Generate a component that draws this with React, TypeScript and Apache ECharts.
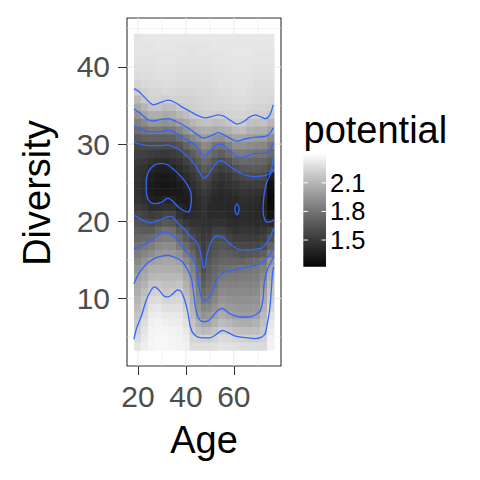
import React, { useEffect, useRef } from "react";
import * as echarts from "echarts";

// ---- data ----
const AGES = [19.8, 22.7, 25.6, 28.5, 31.4, 34.4, 37.3, 40.2, 42.9, 45.2, 47.4, 49.5, 51.9, 54.9, 57.8, 60.7, 63.6, 66.6, 69.5, 72.4, 75.3];
const DIVERSITY = [43.8, 42.8, 41.8, 40.8, 39.8, 38.8, 37.8, 36.8, 35.8, 34.8, 33.8, 32.8, 31.8, 30.8, 29.8, 28.8, 27.8, 26.8, 25.8, 24.8, 23.8, 22.8, 21.8, 20.8, 19.8, 18.8, 17.8, 16.8, 15.8, 14.8, 13.8, 12.8, 11.8, 10.8, 9.8, 8.8, 7.8, 6.8, 5.8, 4.8, 3.8];

// potential, one column per age (top = diversity 43.8, bottom = 3.8)
const POTENTIAL = [
  [2.30,2.30,2.30,2.29,2.28, 2.26,2.23,2.19,2.12,2.04, 1.95,1.86,1.77,1.67,1.58, 1.54,1.51,1.49,1.47,1.46, 1.46,1.48,1.52,1.58,1.64, 1.69,1.74,1.79,1.84,1.90, 1.95,2.01,2.04,2.07,2.10, 2.13,2.16,2.19,2.22,2.26, 2.30],
  [2.31,2.30,2.30,2.29,2.28, 2.27,2.25,2.22,2.18,2.10, 2.02,1.91,1.80,1.70,1.59, 1.54,1.50,1.47,1.45,1.43, 1.43,1.45,1.49,1.55,1.62, 1.68,1.75,1.81,1.88,1.95, 2.01,2.05,2.09,2.13,2.17, 2.20,2.24,2.27,2.30,2.32, 2.34],
  [2.31,2.30,2.30,2.29,2.28, 2.27,2.26,2.24,2.22,2.16, 2.07,1.97,1.83,1.71,1.60, 1.52,1.46,1.40,1.36,1.34, 1.34,1.37,1.44,1.52,1.60, 1.68,1.77,1.85,1.92,2.01, 2.06,2.11,2.16,2.21,2.26, 2.30,2.33,2.35,2.36,2.37, 2.37],
  [2.31,2.31,2.30,2.30,2.29, 2.28,2.26,2.24,2.22,2.16, 2.07,1.96,1.83,1.71,1.60, 1.51,1.44,1.37,1.33,1.32, 1.32,1.36,1.44,1.53,1.63, 1.74,1.83,1.90,1.97,2.02, 2.07,2.12,2.17,2.22,2.27, 2.31,2.34,2.36,2.37,2.38, 2.38],
  [2.31,2.31,2.30,2.30,2.29, 2.28,2.27,2.25,2.21,2.13, 2.05,1.94,1.81,1.70,1.59, 1.50,1.43,1.36,1.32,1.31, 1.32,1.40,1.47,1.57,1.67, 1.78,1.85,1.92,1.98,2.03, 2.07,2.11,2.15,2.18,2.23, 2.28,2.32,2.35,2.37,2.38, 2.38],
  [2.31,2.31,2.30,2.30,2.29, 2.28,2.27,2.25,2.22,2.14, 2.06,1.96,1.83,1.71,1.60, 1.52,1.45,1.39,1.34,1.32, 1.33,1.39,1.46,1.56,1.65, 1.77,1.84,1.91,1.97,2.03, 2.07,2.11,2.15,2.19,2.24, 2.28,2.32,2.34,2.36,2.37, 2.37],
  [2.31,2.30,2.30,2.29,2.28, 2.27,2.26,2.24,2.22,2.18, 2.10,2.01,1.88,1.76,1.64, 1.55,1.49,1.44,1.39,1.35, 1.33,1.34,1.40,1.47,1.57, 1.67,1.75,1.83,1.93,2.01, 2.06,2.11,2.16,2.21,2.25, 2.28,2.31,2.33,2.35,2.36, 2.36],
  [2.31,2.30,2.30,2.29,2.28, 2.27,2.26,2.24,2.22,2.20, 2.14,2.05,1.95,1.83,1.72, 1.62,1.55,1.49,1.44,1.39, 1.36,1.35,1.37,1.43,1.50, 1.60,1.67,1.75,1.83,1.91, 2.00,2.04,2.08,2.12,2.16, 2.21,2.25,2.29,2.32,2.34, 2.35],
  [2.31,2.30,2.29,2.29,2.28, 2.27,2.26,2.24,2.22,2.21, 2.18,2.10,2.02,1.89,1.78, 1.69,1.61,1.54,1.49,1.45, 1.42,1.41,1.41,1.43,1.47, 1.53,1.60,1.67,1.74,1.82, 1.87,1.92,1.97,2.02,2.05, 2.09,2.12,2.16,2.19,2.23, 2.27],
  [2.31,2.30,2.30,2.29,2.28, 2.27,2.26,2.25,2.23,2.22, 2.20,2.13,2.05,1.95,1.83, 1.75,1.68,1.61,1.55,1.50, 1.46,1.44,1.43,1.44,1.47, 1.51,1.55,1.60,1.64,1.69, 1.73,1.78,1.82,1.86,1.90, 1.95,1.99,2.08,2.14,2.22, 2.27],
  [2.31,2.30,2.30,2.29,2.28, 2.27,2.26,2.25,2.24,2.23, 2.21,2.15,2.07,2.00,1.91, 1.83,1.75,1.68,1.61,1.56, 1.51,1.48,1.46,1.46,1.47, 1.49,1.51,1.53,1.55,1.58, 1.61,1.66,1.70,1.75,1.80, 1.87,1.94,2.02,2.11,2.21, 2.27],
  [2.31,2.30,2.30,2.29,2.28, 2.27,2.26,2.25,2.24,2.23, 2.21,2.15,2.07,1.98,1.89, 1.79,1.72,1.65,1.58,1.52, 1.48,1.45,1.43,1.43,1.45, 1.48,1.52,1.57,1.62,1.65, 1.68,1.71,1.75,1.78,1.82, 1.89,1.96,2.03,2.12,2.21, 2.27],
  [2.31,2.31,2.30,2.30,2.29, 2.28,2.27,2.26,2.25,2.24, 2.21,2.13,2.05,1.94,1.81, 1.73,1.65,1.57,1.51,1.47, 1.44,1.42,1.42,1.43,1.47, 1.53,1.60,1.63,1.66,1.70, 1.73,1.76,1.79,1.84,1.89, 1.95,2.01,2.08,2.16,2.23, 2.28],
  [2.31,2.31,2.30,2.30,2.29, 2.28,2.28,2.27,2.25,2.24, 2.21,2.14,2.06,1.93,1.79, 1.69,1.60,1.53,1.48,1.44, 1.42,1.41,1.41,1.43,1.47, 1.53,1.61,1.65,1.69,1.73, 1.77,1.82,1.86,1.91,1.95, 2.00,2.06,2.13,2.20,2.26, 2.30],
  [2.31,2.31,2.31,2.30,2.30, 2.29,2.28,2.27,2.26,2.24, 2.22,2.17,2.08,1.99,1.86, 1.75,1.65,1.56,1.50,1.46, 1.43,1.41,1.40,1.41,1.44, 1.50,1.56,1.63,1.68,1.73, 1.78,1.83,1.86,1.90,1.94, 1.98,2.03,2.11,2.18,2.25, 2.29],
  [2.31,2.31,2.31,2.30,2.30, 2.29,2.29,2.28,2.27,2.25, 2.23,2.20,2.12,2.03,1.93, 1.83,1.72,1.62,1.55,1.49, 1.45,1.42,1.38,1.40,1.43, 1.47,1.52,1.58,1.66,1.73, 1.79,1.83,1.86,1.90,1.93, 1.97,2.00,2.08,2.15,2.23, 2.28],
  [2.31,2.31,2.31,2.30,2.30, 2.29,2.29,2.28,2.27,2.25, 2.23,2.20,2.13,2.02,1.93, 1.84,1.75,1.66,1.58,1.52, 1.48,1.45,1.43,1.43,1.45, 1.49,1.53,1.58,1.64,1.72, 1.81,1.84,1.87,1.90,1.93, 1.96,1.99,2.06,2.14,2.22, 2.27],
  [2.31,2.31,2.31,2.30,2.30, 2.29,2.28,2.27,2.26,2.24, 2.22,2.15,2.08,2.00,1.91, 1.82,1.74,1.67,1.59,1.52, 1.47,1.44,1.42,1.42,1.44, 1.48,1.52,1.57,1.65,1.74, 1.81,1.84,1.87,1.90,1.93, 1.96,1.99,2.06,2.13,2.21, 2.26],
  [2.31,2.31,2.30,2.30,2.29, 2.28,2.27,2.26,2.25,2.23, 2.21,2.14,2.06,1.99,1.90, 1.80,1.73,1.67,1.60,1.52, 1.46,1.43,1.41,1.41,1.43, 1.47,1.52,1.57,1.66,1.76, 1.82,1.85,1.88,1.91,1.94, 1.97,2.01,2.08,2.14,2.20, 2.26],
  [2.31,2.31,2.30,2.30,2.29, 2.28,2.27,2.26,2.25,2.23, 2.21,2.15,2.07,1.98,1.89, 1.80,1.73,1.66,1.59,1.52, 1.45,1.39,1.37,1.39,1.44, 1.49,1.55,1.60,1.70,1.80, 1.86,1.91,1.96,2.01,2.05, 2.08,2.12,2.15,2.18,2.22, 2.26],
  [2.31,2.31,2.30,2.30,2.29, 2.28,2.27,2.26,2.24,2.22, 2.18,2.10,2.02,1.92,1.83, 1.75,1.68,1.61,1.34,1.28, 1.26,1.25,1.26,1.30,1.42, 1.54,1.63,1.72,1.81,1.95, 2.03,2.07,2.12,2.16,2.20, 2.24,2.28,2.31,2.33,2.35, 2.36],
];

// contour lines (age, diversity)
const C22_UPPER = [[18.3,37.2],[20.5,36.8],[23,36.0],[26.5,35.1],[29.5,35.4],[32.6,35.7],[35.5,35.4],[38.5,34.8],[42,34.2],[45,33.7],[48,33.4],[51,33.6],[53.5,33.8],[56,33.6],[58.5,33.1],[61.3,32.6],[64,32.9],[66.5,33.5],[69,33.75],[71.5,33.5],[73.1,33.3],[75,33.8],[76.4,35.1]];
const C20_UPPER = [[18.3,34.6],[21,34.0],[24,33.2],[26.4,33.0],[29.5,33.2],[32.7,33.3],[36,32.9],[40.4,32.2],[44,31.4],[47.3,30.8],[50.5,31.1],[53.6,31.5],[57,31.0],[61.3,30.4],[65,30.7],[69,30.9],[73.1,31.0],[75,31.4],[76.4,32.1]];
const C18_UPPER = [[18.3,32.3],[21,32.0],[24.5,31.6],[28.5,31.6],[32.6,31.8],[36,31.4],[39.5,30.7],[43.5,30.0],[46,29.0],[47.8,28.4],[49.5,28.9],[51.5,29.6],[53.5,30.0],[55.5,29.9],[58,29.3],[60.5,28.5],[63,28.3],[66,28.5],[69,28.8],[72,28.8],[74.5,29.0],[76.4,30.2]];
const C16_UPPER = [[18.3,30.2],[21,30.0],[24.5,29.8],[28.5,29.8],[32.5,29.9],[36,29.5],[39,28.9],[42,28.0],[44.5,27.0],[46.5,25.9],[47.6,25.6],[49,25.9],[50.5,26.6],[52.5,27.5],[54.2,27.85],[56,27.7],[58,27.2],[60.5,26.7],[63,26.2],[66,25.9],[69,25.8],[72,25.9],[74.5,26.1],[75.8,27.0],[76.6,28.4]];
const C14_LEFT = [[23.5,25.5],[24.5,26.5],[26.5,27.2],[29.5,27.5],[32.5,27.3],[35,26.7],[38,25.8],[40.5,24.8],[42,23.8],[42.3,22.8],[41.8,21.6],[40.9,21.2],[39,21.4],[36.7,21.9],[34.5,22.6],[32.5,23.0],[30,22.5],[27,22.3],[25,22.5],[23.8,23.2],[23.4,24.5],[23.5,25.5]];
const C14_RIGHT = [[76.7,26.9],[75.5,26.2],[74,25.3],[73,24.2],[72.4,22.8],[72.2,21.5],[72.7,20.4],[74,19.9],[75.5,19.95],[76.7,20.2]];
const C14_SMALL = [[61.3,22.3],[61.9,22.0],[62.2,21.6],[61.9,21.1],[61.3,20.85],[60.7,21.1],[60.4,21.6],[60.7,22.0],[61.3,22.3]];
const C16_LOWER = [[18.3,20.8],[20.5,20.4],[23,20.0],[25.5,19.8],[28.5,20.1],[31.5,20.5],[34,20.6],[36.5,19.8],[39,19.1],[41.8,18.1],[44.5,17.3],[45.9,16.3],[46.7,15.0],[47.3,14.0],[47.9,14.0],[48.5,15.2],[49.5,16.5],[51,17.6],[53,18.1],[55.5,17.9],[58,17.2],[60.5,16.6],[63,16.3],[66,16.3],[69,16.4],[71.5,16.5],[74.5,17.6],[76.6,19.1]];
const C18_LOWER = [[18.3,16.4],[21,16.8],[24.2,17.2],[27.5,18.0],[30.8,18.65],[33.5,18.4],[36.5,17.6],[39.5,16.3],[41.8,15.6],[43.8,14.7],[44.8,13.3],[45.4,11.8],[46.2,10.4],[47.3,9.7],[48.5,9.8],[50.2,10.3],[51.5,11.3],[52.8,12.4],[54.5,13.1],[57,13.5],[60,13.7],[63,13.9],[66,14.1],[69,14.3],[71.5,14.6],[74,15.3],[76.6,16.5]];
const C20_LOWER = [[18.3,11.9],[19.8,12.9],[21.4,13.7],[24,14.6],[27,15.2],[30,15.5],[32.6,15.6],[35.5,15.3],[38.1,14.9],[40.4,13.9],[42.3,12.6],[43.3,10.5],[44,8.8],[45.2,7.5],[47,7.0],[49.3,7.1],[51.5,7.8],[53.5,8.5],[55.3,8.7],[57.5,8.2],[60,7.8],[63,7.6],[66,7.6],[68.5,7.8],[71,8.4],[72.2,10],[72.6,11.9],[73.6,13.3],[74.5,14.1],[76.6,15.4]];
const C22_LOWER = [[18.3,4.7],[19.5,6.2],[21.4,7.7],[23.5,9.8],[25.5,11.1],[27,11.5],[29,11.0],[31,10.3],[32.6,10.2],[34.5,10.6],[36.5,11.1],[38,10.9],[39.5,9.8],[40.8,8.2],[41.8,6.4],[43,5.5],[45,5.0],[47.5,4.9],[50,4.9],[52,5.2],[55.3,5.85],[57.5,5.6],[60,5.2],[63,5.0],[66,4.9],[69,4.8],[71.5,5.0],[73,5.4],[74,6.8],[75,8.7],[75.6,11],[76.1,13.2],[76.6,14.1]];
const CONTOURS = [C22_UPPER, C20_UPPER, C18_UPPER, C16_UPPER, C14_LEFT, C14_RIGHT, C14_SMALL, C16_LOWER, C18_LOWER, C20_LOWER, C22_LOWER];

const X_TICKS = [20, 40, 60];
const X_MINOR = [30, 50, 70];
const Y_TICKS = [10, 20, 30, 40];
const Y_MINOR = [5, 15, 25, 35, 45];
const AGE_RANGE = [15.43, 79.67];
const DIV_RANGE = [1.25, 46.35];
const LEGEND_TICKS = [1.5, 1.8, 2.1];
const POTENTIAL_RANGE = [1.22, 2.41];

// ---- helpers ----
const FONT = "Liberation Sans, Arial, Helvetica, sans-serif";

function grey(v: number): string {
  const [lo, hi] = POTENTIAL_RANGE;
  const t = Math.min(1, Math.max(0, (v - lo) / (hi - lo)));
  const L = 100 * t;
  const fy = (L + 16) / 116;
  const Y = L > 8 ? fy * fy * fy : L / 903.3;
  const s = Y <= 0.0031308 ? 12.92 * Y : 1.055 * Math.pow(Y, 1 / 2.4) - 0.055;
  const c = Math.round(255 * Math.min(1, Math.max(0, s)));
  return `rgb(${c},${c},${c})`;
}

function edges(c: number[]): number[] {
  const e: number[] = [c[0] - (c[1] - c[0]) / 2];
  for (let i = 0; i < c.length - 1; i++) e.push((c[i] + c[i + 1]) / 2);
  e.push(c[c.length - 1] + (c[c.length - 1] - c[c.length - 2]) / 2);
  return e;
}

function buildCells() {
  const xe = edges(AGES);
  const ye = edges(DIVERSITY);
  const out: number[][] = [];
  AGES.forEach((a, i) => {
    DIVERSITY.forEach((d, j) => {
      out.push([a, d, POTENTIAL[i][j], xe[i], xe[i + 1], ye[j], ye[j + 1]]);
    });
  });
  return out;
}

// legend layout (pixels)
const LEG = { x: 303.3, y: 153.3, w: 22.7, h: 113.4 };

function legendY(v: number) {
  const [lo, hi] = POTENTIAL_RANGE;
  return LEG.y + ((hi - v) / (hi - lo)) * LEG.h;
}

function buildGraphic() {
  const [lo, hi] = POTENTIAL_RANGE;
  const stops = [];
  for (let k = 0; k <= 20; k++) {
    stops.push({ offset: k / 20, color: grey(hi - (k / 20) * (hi - lo)) });
  }
  const els: any[] = [
    {
      type: "rect",
      shape: { x: LEG.x, y: LEG.y, width: LEG.w, height: LEG.h },
      style: { fill: { type: "linear", x: 0, y: 0, x2: 0, y2: 1, colorStops: stops } },
      silent: true,
    },
    {
      type: "text",
      x: 303.5,
      y: 130,
      style: { text: "potential", fontSize: 38, fontFamily: FONT, fill: "#000", textAlign: "left", textVerticalAlign: "middle", align: "left", verticalAlign: "middle" },
    },
    {
      type: "text",
      x: 204,
      y: 440,
      style: { text: "Age", fontSize: 38, fontFamily: FONT, fill: "#000", textAlign: "center", textVerticalAlign: "middle", align: "center", verticalAlign: "middle" },
    },
    {
      type: "text",
      x: 37,
      y: 193,
      rotation: Math.PI / 2,
      style: { text: "Diversity", fontSize: 38, fontFamily: FONT, fill: "#000", textAlign: "center", textVerticalAlign: "middle", align: "center", verticalAlign: "middle" },
    },
  ];
  LEGEND_TICKS.forEach((v) => {
    const y = legendY(v);
    els.push({ type: "line", shape: { x1: LEG.x, y1: y, x2: LEG.x + 4.5, y2: y }, style: { stroke: "#fff", lineWidth: 1 }, silent: true });
    els.push({ type: "line", shape: { x1: LEG.x + LEG.w - 4.5, y1: y, x2: LEG.x + LEG.w, y2: y }, style: { stroke: "#fff", lineWidth: 1 }, silent: true });
    els.push({
      type: "text",
      x: 330,
      y,
      style: { text: v.toFixed(1), fontSize: 25.5, fontFamily: FONT, fill: "#000", textAlign: "left", textVerticalAlign: "middle", align: "left", verticalAlign: "middle" },
    });
  });
  return els;
}

function gridLineSeries() {
  const s: any[] = [];
  const mk = (data: number[][], width: number) => ({
    type: "line",
    data,
    showSymbol: false,
    symbol: "none",
    silent: true,
    z: 1,
    lineStyle: { color: "#EBEBEB", width },
  });
  X_MINOR.forEach((x) => s.push(mk([[x, DIV_RANGE[0]], [x, DIV_RANGE[1]]], 0.6)));
  Y_MINOR.forEach((y) => s.push(mk([[AGE_RANGE[0], y], [AGE_RANGE[1], y]], 0.6)));
  X_TICKS.forEach((x) => s.push(mk([[x, DIV_RANGE[0]], [x, DIV_RANGE[1]]], 1.1)));
  Y_TICKS.forEach((y) => s.push(mk([[AGE_RANGE[0], y], [AGE_RANGE[1], y]], 1.1)));
  return s;
}

export default function App() {
  const ref = useRef<HTMLDivElement>(null);
  useEffect(() => {
    if (!ref.current) return;
    const chart = echarts.init(ref.current, null, { renderer: "svg" });
    const axisLabel = { fontSize: 30, fontFamily: FONT, color: "#4D4D4D" };
    chart.setOption({
      animation: false,
      backgroundColor: "#ffffff",
      grid: { left: 127, top: 18, width: 154, height: 348, show: true, borderColor: "#333333", borderWidth: 1.1, backgroundColor: "#ffffff" },
      xAxis: {
        type: "value",
        min: AGE_RANGE[0],
        max: AGE_RANGE[1],
        axisLine: { show: false },
        axisTick: { show: true, length: 9, customValues: X_TICKS, lineStyle: { color: "#333333", width: 1 } },
        axisLabel: { ...axisLabel, margin: 15, customValues: X_TICKS },
        splitLine: { show: false },
      },
      yAxis: {
        type: "value",
        min: DIV_RANGE[0],
        max: DIV_RANGE[1],
        axisLine: { show: false },
        axisTick: { show: true, length: 9, customValues: Y_TICKS, lineStyle: { color: "#333333", width: 1 } },
        axisLabel: { ...axisLabel, margin: 17, customValues: Y_TICKS },
        splitLine: { show: false },
      },
      graphic: buildGraphic(),
      series: [
        ...gridLineSeries(),
        {
          type: "custom",
          z: 2,
          silent: true,
          encode: { x: 0, y: 1 },
          data: buildCells(),
          renderItem: (_params: any, api: any) => {
            const a = api.coord([api.value(3), api.value(5)]);
            const b = api.coord([api.value(4), api.value(6)]);
            const left = Math.min(a[0], b[0]);
            const top = Math.min(a[1], b[1]);
            return {
              type: "rect",
              shape: { x: left, y: top, width: Math.abs(b[0] - a[0]) + 0.5, height: Math.abs(b[1] - a[1]) + 0.5 },
              style: { fill: grey(api.value(2)) },
            };
          },
        },
        ...CONTOURS.map((c) => ({
          type: "line",
          data: c,
          showSymbol: false,
          symbol: "none",
          smooth: 0.3,
          silent: true,
          z: 3,
          lineStyle: { color: "#3366FF", width: 1.3 },
        })),
      ],
    });
    return () => chart.dispose();
  }, []);
  return <div ref={ref} style={{ position: "fixed", left: 0, top: 0, width: 480, height: 480 }} />;
}
